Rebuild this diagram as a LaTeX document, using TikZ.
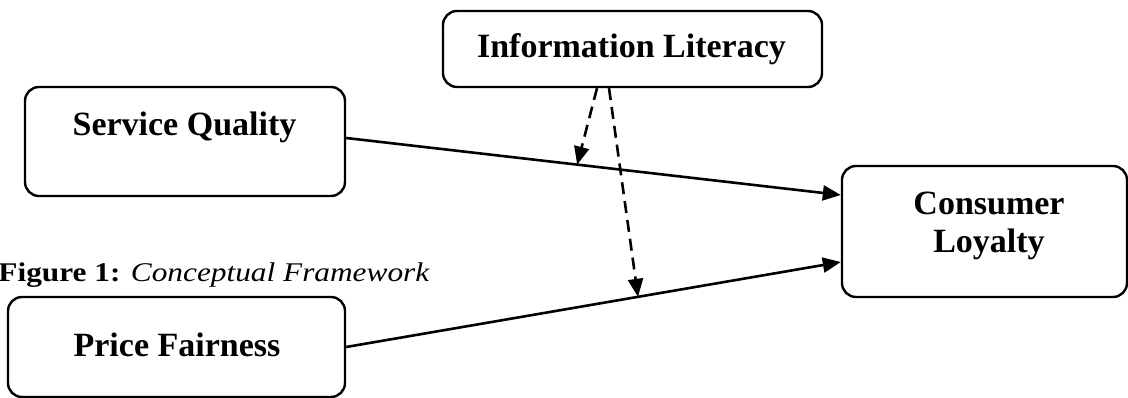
\documentclass[tikz,border=0pt]{standalone}
\usepackage{fontspec}
\setmainfont{Liberation Serif}
\usetikzlibrary{arrows.meta,calc}

\begin{document}
\begin{tikzpicture}[x=1pt,y=-1pt,
  box/.style={draw, line width=2.4pt, rounded corners=14pt, inner sep=0pt},
  lbl/.style={anchor=base, inner sep=0pt, font=\fontsize{34}{38}\selectfont\bfseries},
  link/.style={line width=2.6pt, -{Triangle[length=18pt,width=15pt]}},
  mod/.style={link, dash pattern=on 12pt off 7pt}
]
\useasboundingbox (0,0) rectangle (1128,398);

% construct boxes
\node[box, minimum width=379pt, minimum height=76pt]  (IL) at (632.5,49) {};
\node[box, minimum width=320pt, minimum height=109pt] (SQ) at (185,141.5) {};
\node[box, minimum width=337pt, minimum height=100pt] (PF) at (176.5,347) {};
\node[box, minimum width=285pt, minimum height=131pt] (CL) at (984.5,231.5) {};

% construct names
\node[lbl] (ILt) at (631.5,58) {Information Literacy};
\node[lbl] (SQt) at (184.5,136) {Service Quality};
\node[lbl] (PFt) at (177,356) {Price Fairness};
\node[lbl] (CLa) at (989,215) {Consumer};
\node[lbl] (CLb) at (989,253) {Loyalty};

% caption
\node[anchor=base east, inner sep=0pt, xscale=1.16,
      font=\fontsize{27}{31}\selectfont] (cap) at (430,282)
  {\textbf{Figure 1:} \textit{Conceptual Framework}};

% direct effects
\draw[link] ($(SQ.east)+(0,-3.5)$) -- coordinate[pos=0.467] (m1) ($(CL.west)+(0,-36.5)$);
\draw[link] (PF.east) -- coordinate[pos=0.59] (m2) ($(CL.west)+(0,30.5)$);

% moderating effects
\draw[mod] ($(IL.south)+(-35.5,0)$) -- (m1);
\draw[mod] ($(IL.south)+(-23.5,0)$) -- (m2);
\end{tikzpicture}
\end{document}
